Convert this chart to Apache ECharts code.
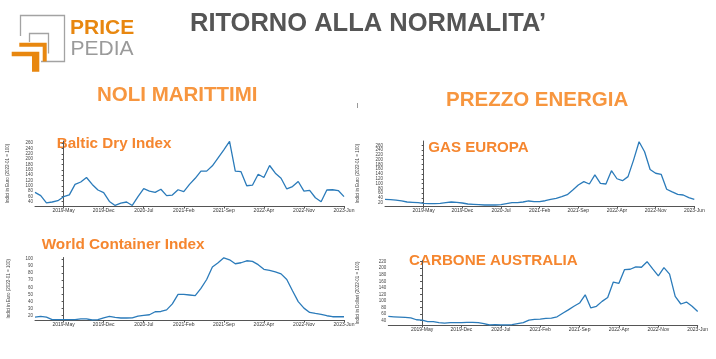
<!DOCTYPE html>
<html>
<head>
<meta charset="utf-8">
<script src="https://cdn.jsdelivr.net/npm/echarts@6/dist/echarts.min.js"></script>
<style>
html,body{margin:0;padding:0;background:#fff;}
#chart{width:716px;height:359px;}
</style>
</head>
<body>
<div id="chart"></div>
<script>
// ---- data (monthly, index 2022-01 = 100) ----
const monthNames = ['Jan','Feb','Mar','Apr','May','Jun','Jul','Aug','Sep','Oct','Nov','Dec'];
const axisEnd = '2023-06';

const balticStart = '2018-12';
const balticValues = [75,63,36,39,44,59,66,105,114,131,105,84,74,41,26,35,39,26,59,89,80,75,87,63,65,85,78,105,128,155,155,175,205,235,267,155,153,100,102,143,131,176,147,128,88,97,116,80,83,55,40,84,85,82,59];

const wciStart = '2018-12';
const wciValues = [18,19,18,14.5,14.5,14.5,14.5,14.5,15.5,15.5,14,14.5,17,19,17.7,16.8,16.8,17,19.5,20.5,21.4,25.6,26,28.3,36.7,50,50,49.2,48.3,58.5,71,88.6,94.6,101.6,98.8,93.2,94.6,97.4,96.5,91.9,85.4,84,81.7,78.9,71,55.2,39.9,30.7,24.6,23.2,21.9,20,18.6,18.6,18.6];

const gasStart = '2018-10';
const gasValues = [34,32.5,31,27,22.7,21.3,20,17,15.8,15.8,17,20,22.7,21.3,18.5,14.4,13,11.6,10.2,10.2,10.2,11.6,15.8,20,20,22.7,27,24,24,28,34,38,45,53.4,73,94,108,98,136,101,98,154,120,112,129,198,275,233,159,143,138.5,76,65,55,52,41,34];

const carbonStart = '2018-11';
const carbonValues = [53,52,51,50,49,43,42,37,37,34,33,34,34,34,35,35,34,31,27,28,27,27,28,31,34,42,44,45,47,48,52,63,73,84,94,119,79,84,99,111,158,154,196,197,204,203,220,198,177,202,182,114,91,97,84,68];

// ---- helpers ----
const REF = 2019 * 12 + 4; // 2019-May = 0, ticks every 7 months
function monthIndex(s) { const p = s.split('-'); return (+p[0]) * 12 + (+p[1] - 1) - REF; }
function monthLabel(m) { const t = Math.round(m) + REF; return Math.floor(t / 12) + '-' + monthNames[t % 12]; }
function toPairs(start, vals) { const s = monthIndex(start); return vals.map((v, i) => [s + i, v]); }

const FONT = '"Liberation Sans", Arial, sans-serif';
const LINE = '#2b7bba';
const AX = '#555';

function xAxisFor(gi, start) {
  return {
    type: 'value', gridIndex: gi, min: monthIndex(start), max: monthIndex(axisEnd),
    minInterval: 7, maxInterval: 7,
    axisLine: { show: true, lineStyle: { color: AX, width: 1 } },
    axisTick: { show: true, length: 2.5, lineStyle: { color: AX } },
    splitLine: { show: false },
    axisLabel: { showMinLabel: false, fontSize: 5, color: '#333', margin: 2, fontFamily: FONT, formatter: monthLabel }
  };
}
function yAxisFor(gi, min, max, step, name, gap) {
  return {
    type: 'value', gridIndex: gi, min: min, max: max, minInterval: step, maxInterval: step,
    name: name, nameLocation: 'middle', nameGap: gap, nameRotate: 90,
    nameTextStyle: { fontSize: 4.5, color: '#444', fontFamily: FONT },
    axisLine: { show: true, lineStyle: { color: AX, width: 1 } },
    axisTick: { show: true, length: 2, lineStyle: { color: AX } },
    splitLine: { show: false },
    axisLabel: { showMinLabel: false, showMaxLabel: false, fontSize: 4.5, color: '#444', margin: 2, fontFamily: FONT }
  };
}
function lineSeries(i, data) {
  return { type: 'line', xAxisIndex: i, yAxisIndex: i, data: data, showSymbol: false, symbol: 'none',
           lineStyle: { color: LINE, width: 1.3 }, animation: false, silent: true };
}
function txt(text, x, y, size, color, weight) {
  return { type: 'text', x: x, y: y, silent: true,
           style: { text: text, fill: color, font: (weight || 'bold') + ' ' + size + 'px ' + FONT,
                    textAlign: 'left', textVerticalAlign: 'middle' } };
}

const chart = echarts.init(document.getElementById('chart'), null, { renderer: 'canvas' });
const ORANGE = '#f5862f';
const HEAD = '#f7963f';
const LOGO_OR = '#e8870f';

chart.setOption({
  animation: false,
  backgroundColor: '#fff',
  grid: [
    { left: 35, top: 141, width: 309, height: 65, outerBoundsMode: 'none' },
    { left: 35, top: 257.5, width: 309, height: 62.5, outerBoundsMode: 'none' },
    { left: 385, top: 141, width: 309.3, height: 65, outerBoundsMode: 'none' },
    { left: 388.3, top: 260.7, width: 309.4, height: 64.3, outerBoundsMode: 'none' }
  ],
  xAxis: [ xAxisFor(0, balticStart), xAxisFor(1, wciStart), xAxisFor(2, gasStart), xAxisFor(3, carbonStart) ],
  yAxis: [
    yAxisFor(0, 24, 268, 20, 'Indici in Euro (2022-01 = 100)', 25),
    yAxisFor(1, 14, 102, 10, 'Indici in Euro (2022-01 = 100)', 24),
    yAxisFor(2, 6, 278, 20, 'Indici in Euro (2022-01 = 100)', 25),
    yAxisFor(3, 27, 223, 20, 'Indici in Dollari (2022-01 = 100)', 28)
  ],
  series: [
    lineSeries(0, toPairs(balticStart, balticValues)),
    lineSeries(1, toPairs(wciStart, wciValues)),
    lineSeries(2, toPairs(gasStart, gasValues)),
    lineSeries(3, toPairs(carbonStart, carbonValues))
  ],
  graphic: [
    // logo
    { type: 'polyline', silent: true, shape: { points: [[20.5,36],[20.5,15.5],[64.5,15.5],[64.5,61.5],[41,61.5]] },
      style: { stroke: '#a3a3a3', lineWidth: 1.3, fill: null } },
    { type: 'polyline', silent: true, shape: { points: [[29.5,42],[29.5,33.5],[48.5,33.5],[48.5,53.5]] },
      style: { stroke: '#a3a3a3', lineWidth: 1.3, fill: null } },
    { type: 'polygon', silent: true, shape: { points: [[19.3,42.7],[46.7,42.7],[46.7,61.5],[42.7,61.5],[42.7,46.7],[19.3,46.7]] },
      style: { fill: LOGO_OR } },
    { type: 'polygon', silent: true, shape: { points: [[11.7,51.7],[39.3,51.7],[39.3,71.7],[32,71.7],[32,56.2],[11.7,56.2]] },
      style: { fill: LOGO_OR } },
    txt('PRICE', 70, 28, 21, LOGO_OR, 'bold'),
    txt('PEDIA', 70.5, 49.5, 21, '#9a9a9a', 'normal'),
    // headers
    txt('RITORNO ALLA NORMALITA\u2019', 190, 24, 25.5, '#555555', 'bold'),
    txt('NOLI MARITTIMI', 97, 95, 20.5, HEAD, 'bold'),
    txt('PREZZO ENERGIA', 446, 100, 20.5, HEAD, 'bold'),
    { type: 'line', silent: true, shape: { x1: 357.5, y1: 103, x2: 357.5, y2: 108 }, style: { stroke: '#999', lineWidth: 1 } },
    // chart titles
    txt('Baltic Dry Index', 56.7, 143.5, 15.2, ORANGE, 'bold'),
    txt('World Container Index', 41.7, 245, 15.3, ORANGE, 'bold'),
    txt('GAS EUROPA', 428.3, 147.5, 15.1, ORANGE, 'bold'),
    txt('CARBONE AUSTRALIA', 409, 261, 15.2, ORANGE, 'bold')
  ]
});
</script>
</body>
</html>
